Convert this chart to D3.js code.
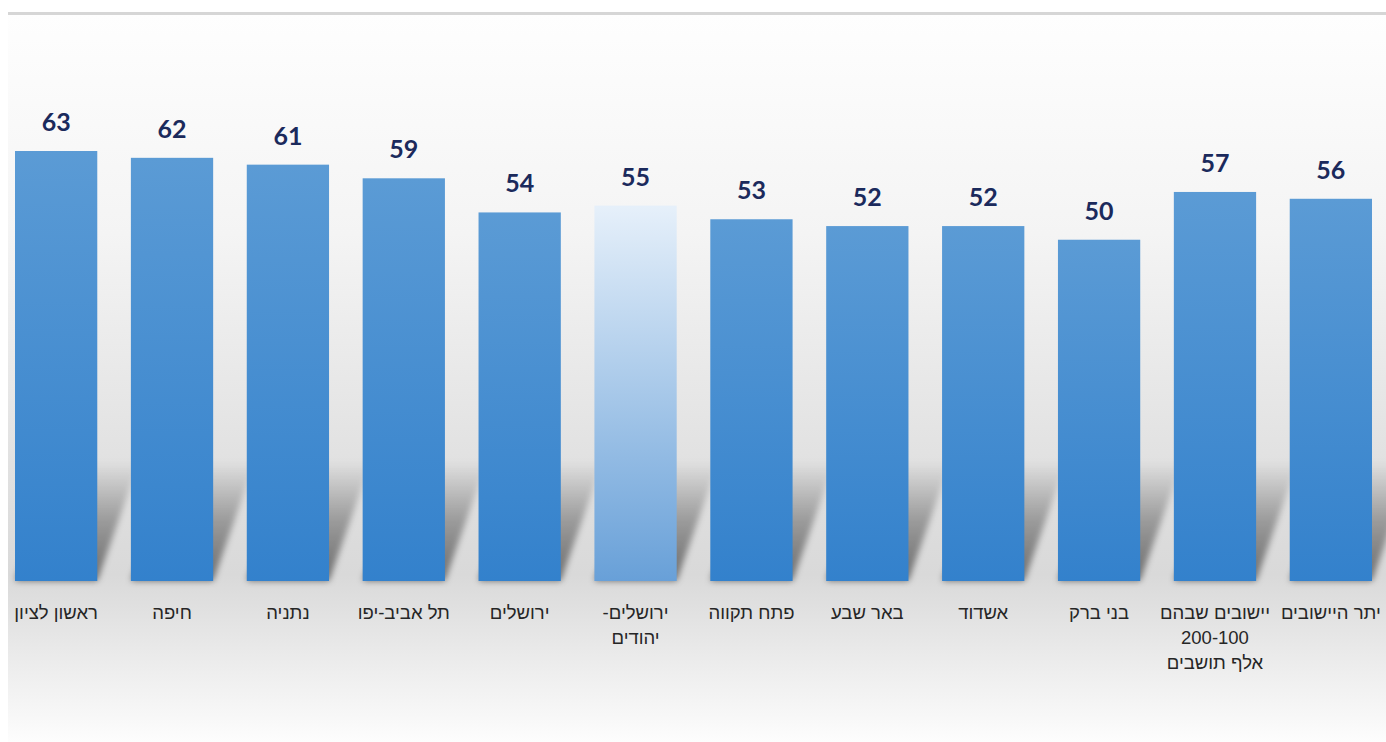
<!DOCTYPE html>
<html>
<head>
<meta charset="utf-8">
<style>
body{
	margin: 0;
	background: #fff;
	overflow: hidden;
}
.value-label {
	font: bold 25px Lato, "Open Sans", sans-serif;
	fill: #1b2a5c;
	text-anchor: middle;
}
.cat-label {
	font: 18.5px "Liberation Sans", Arial, sans-serif;
	fill: #262626;
	text-anchor: middle;
}
</style>
<script src="https://cdnjs.cloudflare.com/ajax/libs/d3/7.8.5/d3.min.js"></script>
</head>
<body>
<div id="chart"></div>
<script>
// data, in the order shown left to right
var categories = ["ראשון לציון", "חיפה", "נתניה", "תל אביב-יפו", "ירושלים", "ירושלים-|יהודים",
	"פתח תקווה", "באר שבע", "אשדוד", "בני ברק", "יישובים  שבהם|200-100|אלף תושבים", "יתר היישובים"];
var values = [63, 62, 61, 59, 54, 55, 53, 52, 52, 50, 57, 56];
var highlighted = ["ירושלים-|יהודים"];

var width = 1386, height = 742;
var baseY = 581;

var svg = d3.select("#chart")
	.append("svg")
		.attr("width", width)
		.attr("height", height);

var defs = svg.append("defs");

// panel background
var bg = defs.append("linearGradient").attr("id", "bg")
	.attr("x1", 0).attr("y1", 0).attr("x2", 0).attr("y2", 1);
bg.append("stop").attr("offset", "0%").attr("stop-color", "#fefefe");
bg.append("stop").attr("offset", "30%").attr("stop-color", "#f4f4f4");
bg.append("stop").attr("offset", "60%").attr("stop-color", "#e2e2e2");
bg.append("stop").attr("offset", "77%").attr("stop-color", "#d9d9d9");
bg.append("stop").attr("offset", "84%").attr("stop-color", "#e4e4e4");
bg.append("stop").attr("offset", "100%").attr("stop-color", "#fdfdfd");

var barGrad = defs.append("linearGradient").attr("id", "bar")
	.attr("x1", 0).attr("y1", 0).attr("x2", 0).attr("y2", 1);
barGrad.append("stop").attr("offset", "0%").attr("stop-color", "#5b9bd5");
barGrad.append("stop").attr("offset", "100%").attr("stop-color", "#3381cc");

var hiGrad = defs.append("linearGradient").attr("id", "barHi")
	.attr("x1", 0).attr("y1", 0).attr("x2", 0).attr("y2", 1);
hiGrad.append("stop").attr("offset", "0%").attr("stop-color", "#e6f0fa");
hiGrad.append("stop").attr("offset", "100%").attr("stop-color", "#68a0d8");

var shGrad = defs.append("linearGradient").attr("id", "shadow")
	.attr("x1", 0).attr("y1", 1).attr("x2", 0).attr("y2", 0);
shGrad.append("stop").attr("offset", "0%").attr("stop-color", "#000").attr("stop-opacity", 0.5);
shGrad.append("stop").attr("offset", "50%").attr("stop-color", "#000").attr("stop-opacity", 0.3);
shGrad.append("stop").attr("offset", "100%").attr("stop-color", "#000").attr("stop-opacity", 0);

defs.append("filter").attr("id", "blur")
	.attr("x", "-30%").attr("y", "-30%").attr("width", "160%").attr("height", "160%")
	.append("feGaussianBlur").attr("stdDeviation", 3);

svg.append("rect")
	.attr("x", 8).attr("y", 15)
	.attr("width", width - 8).attr("height", height - 15)
	.attr("fill", "url(#bg)");

svg.append("rect")
	.attr("x", 8).attr("y", 12)
	.attr("width", width - 8).attr("height", 3)
	.attr("fill", "#d6d6d6");

var x = d3.scaleBand()
	.domain(categories)
	.range([15, 1372])
	.paddingInner(0.29)
	.paddingOuter(0);

var y = d3.scaleLinear()
	.domain([0, 63])
	.range([baseY, 151]);

// shadows cast behind bars
var shDx = 42, shH = 120;
svg.append("g").selectAll("path.shadow")
	.data(categories)
	.enter().append("path")
		.attr("class", "shadow")
		.attr("d", function(d) {
			var x0 = x(d), w = x.bandwidth();
			return "M" + x0 + "," + baseY + " L" + (x0 + w) + "," + baseY
				+ " L" + (x0 + w + shDx) + "," + (baseY - shH)
				+ " L" + (x0 + shDx) + "," + (baseY - shH) + " Z";
		})
		.attr("fill", "url(#shadow)")
		.attr("filter", "url(#blur)");

svg.append("g").selectAll("rect.bar")
	.data(categories)
	.enter().append("rect")
		.attr("class", "bar")
		.attr("x", function(d) { return x(d); })
		.attr("y", function(d, i) { return y(values[i]); })
		.attr("width", x.bandwidth())
		.attr("height", function(d, i) { return baseY - y(values[i]); })
		.attr("fill", function(d) { return highlighted.indexOf(d) >= 0 ? "url(#barHi)" : "url(#bar)"; });

svg.append("g").selectAll("text.value-label")
	.data(categories)
	.enter().append("text")
		.attr("class", "value-label")
		.attr("x", function(d) { return x(d) + x.bandwidth() / 2; })
		.attr("y", function(d, i) { return y(values[i]) - 20; })
		.text(function(d, i) { return values[i]; });

var labels = svg.append("g").selectAll("text.cat-label")
	.data(categories)
	.enter().append("text")
		.attr("class", "cat-label")
		.attr("direction", "rtl")
		.attr("x", function(d) { return x(d) + x.bandwidth() / 2; })
		.attr("y", 619);

labels.each(function(d) {
	var t = d3.select(this);
	var cx = x(d) + x.bandwidth() / 2;
	d.split("|").forEach(function(line, k) {
		t.append("tspan")
			.attr("x", cx)
			.attr("dy", k === 0 ? 0 : 25)
			.text(line);
	});
});
</script>
</body>
</html>
